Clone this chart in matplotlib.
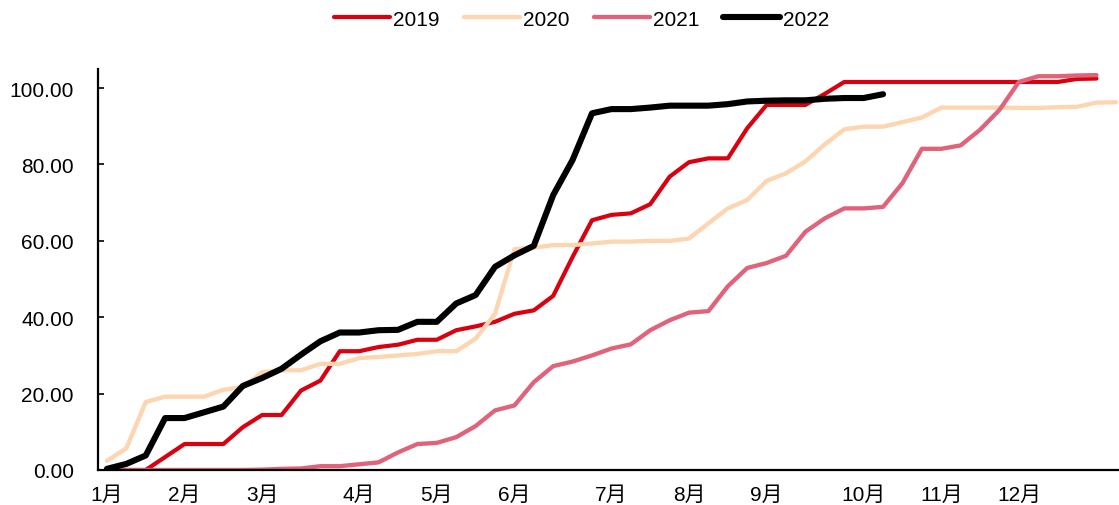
import matplotlib
matplotlib.use("Agg")
import matplotlib.pyplot as plt
from matplotlib.ticker import FormatStrFormatter

plt.rcParams['font.family'] = ['Liberation Sans', 'Noto Sans CJK SC', 'DejaVu Sans']

# Weekly cumulative progress (%) by year
weeks_2019 = [0.0, 0.0, 0.0, 3.4, 6.8, 6.8, 6.8, 11.2, 14.4, 14.4,
              20.8, 23.4, 31.1, 31.1, 32.2, 32.8, 34.1, 34.1, 36.6, 37.6,
              38.8, 40.9, 41.8, 45.6, 55.8, 65.4, 66.8, 67.2, 69.6, 76.8,
              80.6, 81.6, 81.6, 89.5, 95.6, 95.6, 95.6, 98.5, 101.6, 101.6,
              101.6, 101.6, 101.6, 101.6, 101.6, 101.6, 101.6, 101.6, 101.6, 101.6,
              102.4, 102.5]
weeks_2020 = [2.4, 5.7, 17.8, 19.2, 19.2, 19.2, 21.0, 21.7, 25.6, 26.1,
              26.1, 27.8, 27.8, 29.3, 29.6, 30.0, 30.4, 31.1, 31.1, 34.4,
              40.9, 57.8, 58.2, 58.9, 58.9, 59.3, 59.8, 59.8, 60.0, 60.0,
              60.6, 64.6, 68.5, 70.7, 75.7, 77.7, 80.8, 85.3, 89.2, 89.9,
              89.9, 91.1, 92.3, 94.9, 94.9, 94.9, 94.9, 94.8, 94.8, 95.0,
              95.1, 96.2, 96.3]
weeks_2021 = [0.0, 0.0, 0.0, 0.0, 0.0, 0.0, 0.0, 0.0, 0.1, 0.3,
              0.4, 1.0, 1.0, 1.5, 2.0, 4.6, 6.8, 7.1, 8.6, 11.5,
              15.6, 16.9, 23.0, 27.2, 28.4, 30.0, 31.8, 32.9, 36.6, 39.2,
              41.2, 41.6, 48.1, 52.9, 54.2, 56.1, 62.4, 65.9, 68.5, 68.5,
              68.9, 75.1, 84.1, 84.1, 85.0, 89.1, 94.3, 101.6, 103.1, 103.1,
              103.3, 103.4]
weeks_2022 = [0.3, 1.6, 3.8, 13.6, 13.6, 15.1, 16.6, 22.0, 24.1, 26.5,
              30.2, 33.7, 36.0, 36.0, 36.6, 36.7, 38.8, 38.8, 43.6, 45.8,
              53.2, 56.2, 58.7, 72.0, 81.2, 93.4, 94.5, 94.5, 94.9, 95.4,
              95.4, 95.4, 95.8, 96.5, 96.7, 96.8, 96.8, 97.2, 97.4, 97.4,
              98.4]

month_weeks = [0, 4, 8, 13, 17, 21, 26, 30, 34, 39, 43, 47]
month_labels = ['1月', '2月', '3月', '4月', '5月', '6月',
                '7月', '8月', '9月', '10月', '11月', '12月']

series = [
    ('2019', weeks_2019, '#D9000F', 3.0),
    ('2020', weeks_2020, '#FDD5B1', 3.1),
    ('2021', weeks_2021, '#E0637A', 3.1),
    ('2022', weeks_2022, '#000000', 4.4),
]

W, H = 1119, 506
fs = 15
fig = plt.figure(figsize=(W / 100, H / 100), dpi=100)
ax = fig.add_axes([98 / W, (H - 471) / H, (W - 98) / W, (471 - 70) / H])

for name, vals, color, lw in series:
    ax.plot(range(len(vals)), vals, color=color, lw=lw, label=name,
            solid_capstyle='round', solid_joinstyle='round')

ax.set_xlim(-0.46, 52.16)
ax.set_ylim(0, 105)
ax.set_yticks([0, 20, 40, 60, 80, 100])
ax.yaxis.set_major_formatter(FormatStrFormatter('%.2f'))
ax.set_xticks(month_weeks)
ax.set_xticklabels(month_labels)

ax.tick_params(axis='y', direction='in', length=4, width=1.2, pad=17.5, labelsize=fs)
ax.tick_params(axis='x', length=0, pad=11, labelsize=fs)

for side in ('top', 'right'):
    ax.spines[side].set_visible(False)
for side in ('left', 'bottom'):
    ax.spines[side].set_linewidth(1.6)

fig.legend(loc='center', bbox_to_anchor=(581.5 / W, 1 - 20 / H), ncol=4,
           frameon=False, fontsize=fs, handlelength=2.7, handletextpad=0.15,
           columnspacing=1.15)

fig.savefig('out.png', dpi=100)
